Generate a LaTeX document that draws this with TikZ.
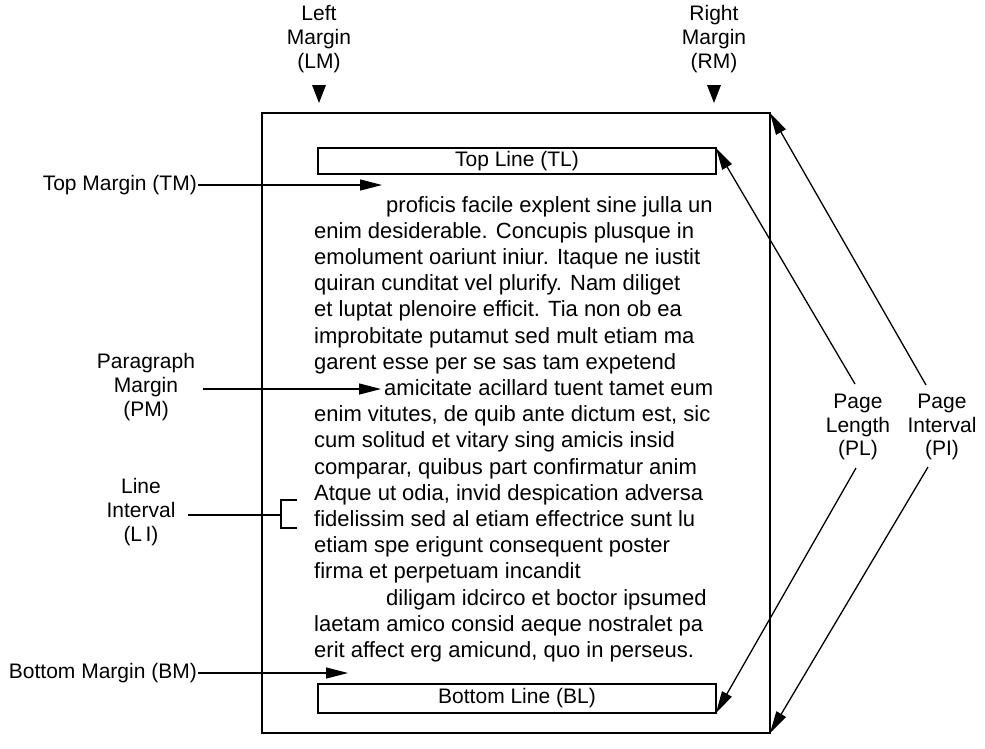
\documentclass[tikz,border=0pt]{standalone}
\usepackage{fontspec}
\setmainfont{Liberation Sans}
\usetikzlibrary{arrows.meta}
\begin{document}
\begin{tikzpicture}[x=1pt,y=-1pt,
  lbl/.style={font=\fontsize{21}{23.8}\selectfont, align=center, inner sep=1pt},
  body/.style={font=\fontsize{22}{26}\selectfont, anchor=base west, inner sep=0pt},
  conn/.style={line width=1.3pt},
  arr/.style={conn, -{Triangle[length=22pt,width=11pt]}},
  linebox/.style={draw, line width=1.8pt, minimum width=398pt, anchor=north west,
     inner sep=0pt, outer sep=0pt, font=\fontsize{21}{24}\selectfont},
  marker/.style={fill=black}
]
\useasboundingbox (0,0) rectangle (985,748);

% page frame
\node[draw, line width=2.2pt, minimum width=508pt, minimum height=620pt,
      anchor=north west, inner sep=0pt, outer sep=0pt] (page) at (262,113) {};

% top and bottom line boxes
\node[linebox, minimum height=26pt] (tl) at (318,148) {Top Line (TL)};
\node[linebox, minimum height=29pt] (bl) at (318,684) {Bottom Line (BL)};

% top labels with markers
\node[lbl] (lm) at (319,39) {Left\\Margin\\(LM)};
\node[lbl] (rm) at (714,39) {Right\\Margin\\(RM)};
\fill[marker] (312,85) -- (326,85) -- (319,103) -- cycle;
\fill[marker] (707,85) -- (721,85) -- (714,103) -- cycle;

% left labels
\node[lbl, anchor=east] (tm) at (198,185) {Top Margin (TM)};
\coordinate (tmtip) at (382,185);
\draw[arr] (tm.east) -- (tmtip);

\node[lbl] (pm) at (146,387) {Paragraph\\Margin\\(PM)};
\coordinate (pmstart) at (203,389);
\coordinate (pmtip) at (381,389);
\draw[arr] (pmstart) -- (pmtip);

\node[lbl] (li) at (141,512) {Line\\Interval\\(L\,I)};
\coordinate (listart) at (188,515);
\coordinate (libr) at (281,515);
\draw[conn] (listart) -- (libr);
\draw[conn] (297,500) -- (281,500) -- (281,528) -- (297,528);

\node[lbl, anchor=east] (bm) at (198,673) {Bottom Margin (BM)};
\coordinate (bmtip) at (348,673);
\draw[arr] (bm.east) -- (bmtip);

% right labels
\node[lbl] (pl) at (858,427) {Page\\Length\\(PL)};
\node[lbl] (pi) at (942,427) {Page\\Interval\\(PI)};
\coordinate (plu) at (855,384);
\coordinate (pld) at (856,468);
\coordinate (piu) at (926,385);
\coordinate (pid) at (928,467);
\draw[arr] (plu) -- (tl.north east);
\draw[arr] (pld) -- (bl.south east);
\draw[arr] (piu) -- (page.north east);
\draw[arr] (pid) -- (page.south east);

% body text
\node[body] (l1)  at (386,212.0) {proficis facile explent sine julla un};
\node[body] (l2)  at (314,238.2) {enim desiderable. Concupis plusque in};
\node[body] (l3)  at (314,264.4) {emolument oariunt iniur. Itaque ne iustit};
\node[body] (l4)  at (314,290.6) {quiran cunditat vel plurify. Nam diliget};
\node[body] (l5)  at (314,316.8) {et luptat plenoire efficit. Tia non ob ea};
\node[body] (l6)  at (314,343.0) {improbitate putamut sed mult etiam ma};
\node[body] (l7)  at (314,369.2) {garent esse per se sas tam expetend};
\node[body] (l8)  at (384,395.4) {amicitate acillard tuent tamet eum};
\node[body] (l9)  at (314,421.6) {enim vitutes, de quib ante dictum est, sic};
\node[body] (l10) at (314,447.8) {cum solitud et vitary sing amicis insid};
\node[body] (l11) at (314,474.0) {comparar, quibus part confirmatur anim};
\node[body] (l12) at (314,500.2) {Atque ut odia, invid despication adversa};
\node[body] (l13) at (314,526.4) {fidelissim sed al etiam effectrice sunt lu};
\node[body] (l14) at (314,552.6) {etiam spe erigunt consequent poster};
\node[body] (l15) at (314,578.8) {firma et perpetuam incandit};
\node[body] (l16) at (386,605.0) {diligam idcirco et boctor ipsumed};
\node[body] (l17) at (314,631.2) {laetam amico consid aeque nostralet pa};
\node[body] (l18) at (314,657.4) {erit affect erg amicund, quo in perseus.};
\end{tikzpicture}
\end{document}
